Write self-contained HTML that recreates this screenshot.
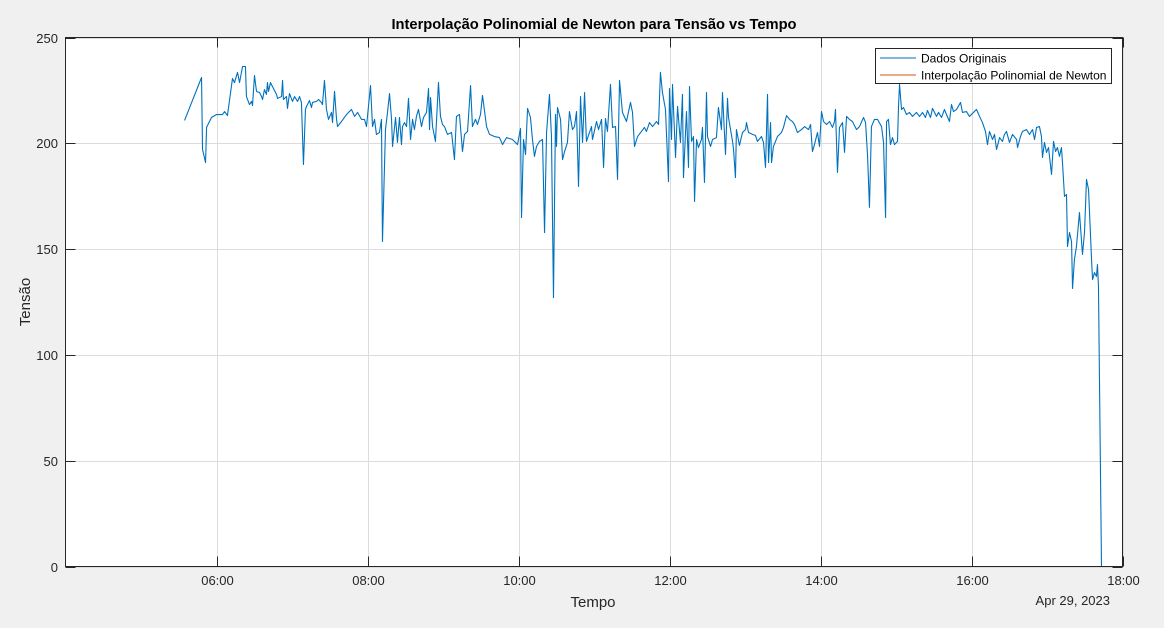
<!DOCTYPE html>
<html><head><meta charset="utf-8"><style>
html,body{margin:0;padding:0;background:#f0f0f0;}
svg{display:block;font-family:"Liberation Sans",sans-serif;}
</style></head><body>
<svg id="chart" width="1164" height="628" viewBox="0 0 1164 628" xmlns="http://www.w3.org/2000/svg">
<rect x="0" y="0" width="1164" height="628" fill="#f0f0f0"/>
<rect x="65.5" y="37.5" width="1057" height="529" fill="#ffffff"/>
<g id="grid"></g>
<g id="series"></g>
<rect x="65.5" y="37.5" width="1057" height="529" fill="none" stroke="#262626" stroke-width="1"/>
<g id="ticks"></g>
<text x="594" y="29" text-anchor="middle" font-size="14.7" font-weight="bold" fill="#000">Interpolação Polinomial de Newton para Tensão vs Tempo</text>
<text x="593" y="607" text-anchor="middle" font-size="15" fill="#262626">Tempo</text>
<text x="1110" y="605" text-anchor="end" font-size="13" fill="#262626">Apr 29, 2023</text>
<text transform="translate(30,302) rotate(-90)" text-anchor="middle" font-size="15" fill="#262626">Tensão</text>
<g>
<rect x="875.5" y="48.5" width="236" height="35" fill="#fff" stroke="#262626" stroke-width="1"/>
<line x1="880" y1="58" x2="916" y2="58" stroke="#0072BD" stroke-width="1"/>
<text x="921" y="62.5" font-size="12" fill="#000">Dados Originais</text>
<line x1="880" y1="75" x2="916" y2="75" stroke="#D95319" stroke-width="1"/>
<text x="921" y="79.5" font-size="12" fill="#000">Interpolação Polinomial de Newton</text>
</g>
</svg>
<script>
// minutes since midnight
const times = [334.6,348.1,348.9,351.3,352.1,356.0,360.0,364.8,366.4,368.7,372.7,374.3,376.7,378.3,380.7,383.0,383.8,386.2,387.8,388.6,390.2,391.8,394.2,395.8,396.6,398.1,399.7,400.5,401.3,402.9,404.5,407.7,408.5,411.7,412.5,413.2,415.6,416.4,418.0,420.4,422.0,424.4,426.0,427.5,429.1,430.7,431.5,433.9,435.5,436.3,439.5,441.1,443.4,444.2,445.8,447.4,449.0,451.4,452.2,453.8,455.4,456.2,459.3,463.3,467.3,469.7,472.1,475.2,477.6,479.2,482.4,484.0,485.6,487.1,489.5,491.1,491.9,494.3,495.9,497.5,499.1,499.9,502.3,503.8,505.4,507.0,507.8,509.4,511.0,512.6,514.2,515.8,517.3,518.9,520.5,522.9,524.5,526.9,528.5,529.3,530.1,531.7,534.0,536.4,538.0,539.6,541.2,543.6,546.8,549.1,550.7,553.1,555.5,557.1,559.5,561.9,563.4,565.8,567.4,569.8,571.4,574.6,577.0,580.9,584.9,587.3,590.5,595.2,599.2,601.6,602.4,604.0,605.6,607.2,609.5,611.1,612.7,614.3,616.7,619.1,620.7,622.3,624.6,626.2,627.8,629.4,630.2,631.0,633.4,635.0,636.6,638.9,640.5,642.9,644.5,646.1,647.7,649.3,650.9,652.5,654.0,658.0,658.8,662.0,663.6,666.0,667.6,669.1,670.7,673.1,674.7,677.1,678.7,680.3,682.6,685.8,689.0,690.6,692.2,694.6,697.7,700.1,701.7,704.1,706.5,709.7,711.3,712.8,714.4,716.8,719.2,720.0,721.6,722.4,724.8,726.4,728.7,730.3,731.1,733.5,735.1,735.9,737.5,739.1,739.9,741.5,743.0,745.4,746.2,747.8,749.4,750.2,752.6,754.2,757.3,758.9,761.3,762.1,764.5,766.1,766.9,768.5,770.1,770.9,772.4,773.2,775.6,778.0,780.4,781.2,782.8,786.0,788.3,789.9,793.1,794.7,796.3,797.9,798.7,800.3,801.1,802.6,805.8,809.0,810.6,813.0,815.4,817.7,819.3,821.7,824.9,827.3,830.5,832.1,833.6,835.2,837.6,839.2,840.8,842.4,844.8,847.2,849.5,851.1,851.9,853.5,855.1,857.5,859.1,860.7,863.0,865.4,868.6,871.0,874.2,875.8,877.4,878.9,880.5,882.9,885.3,888.5,890.1,891.7,892.5,894.0,895.6,897.2,898.8,901.2,902.0,902.8,904.4,906.0,908.3,910.7,913.1,916.3,918.7,921.1,923.4,925.0,927.4,929.0,932.2,933.8,936.2,938.5,940.1,942.5,944.1,945.7,948.1,951.3,952.8,956.0,958.4,961.6,964.0,966.4,968.7,971.1,972.7,974.3,976.7,978.3,979.9,982.3,984.6,986.2,987.8,990.2,992.6,995.8,996.6,998.9,1000.5,1003.7,1006.1,1008.5,1010.1,1011.7,1014.0,1015.6,1016.4,1018.0,1019.6,1021.2,1023.6,1025.2,1026.8,1028.3,1029.9,1031.5,1032.3,1033.9,1035.5,1036.3,1037.9,1039.5,1040.3,1041.8,1043.4,1045.8,1048.2,1049.8,1051.4,1053.0,1055.4,1056.2,1057.7,1059.3,1060.1,1060.9,1063.3];
const voltage = [210.8,231.1,197.1,190.9,207.5,212.2,213.6,213.6,215.0,213.1,230.6,228.7,233.5,228.7,236.3,236.3,222.1,218.3,219.8,217.9,232.0,224.5,224.0,222.1,220.7,225.4,223.1,228.7,224.5,228.7,226.8,223.1,221.2,222.1,229.7,220.7,222.1,216.5,223.5,219.8,222.1,219.8,222.1,219.3,190.0,216.0,217.4,220.2,216.9,219.3,219.8,220.7,219.3,218.3,229.7,216.0,211.3,214.6,209.8,224.5,211.3,207.9,210.3,213.6,216.0,212.7,214.6,211.3,211.3,207.9,227.3,207.9,211.3,204.2,205.1,211.3,153.6,206.5,214.6,223.5,211.3,198.5,212.2,200.4,212.2,199.4,207.9,209.8,207.9,221.2,201.8,211.3,206.5,212.7,216.0,207.9,212.2,214.6,225.9,206.5,221.6,207.9,200.9,228.7,212.7,208.9,207.9,204.2,205.1,192.3,212.7,213.6,196.1,204.2,205.6,227.3,207.9,211.3,208.9,213.6,222.6,207.9,204.2,203.2,202.7,199.4,202.7,201.8,199.4,207.0,164.9,201.8,194.7,216.5,212.2,201.8,193.8,198.5,200.9,201.8,157.8,205.1,223.1,203.2,127.1,213.6,198.5,216.9,211.3,192.3,196.1,200.4,215.0,206.5,207.9,215.0,179.6,222.1,200.4,224.0,200.9,207.9,201.8,210.3,206.5,211.3,188.6,211.7,205.6,227.8,207.5,207.9,182.9,229.7,214.6,210.3,219.3,214.6,198.5,203.2,205.6,207.5,205.6,209.8,207.9,210.3,208.9,233.5,224.0,216.0,181.9,225.9,201.8,227.8,193.3,217.4,200.4,223.1,183.8,215.0,188.6,226.8,200.9,203.2,172.5,201.8,198.0,201.8,207.5,181.5,224.0,203.2,198.5,201.8,202.7,216.9,206.5,224.0,194.7,221.2,212.2,206.5,200.9,197.1,183.8,206.5,199.0,205.1,206.5,209.8,205.1,204.2,203.7,200.9,203.2,200.4,188.6,223.1,190.9,209.8,190.9,198.5,203.2,205.1,207.5,213.1,211.3,210.3,208.9,205.1,206.5,207.9,206.5,208.9,196.1,199.4,205.1,198.5,215.0,210.3,208.9,210.3,207.5,210.3,216.0,186.2,207.5,209.8,195.7,212.7,211.3,210.3,206.5,207.9,212.2,209.8,194.2,169.7,207.9,211.3,211.3,207.9,200.4,164.9,210.3,211.3,199.4,202.7,199.4,200.9,217.4,227.8,216.0,216.9,213.6,214.6,212.7,214.6,212.7,214.6,212.2,215.5,212.2,216.5,212.7,214.6,212.2,216.0,213.6,210.3,218.3,215.0,216.0,219.3,214.6,215.0,212.7,214.6,216.0,212.7,209.8,205.6,199.4,205.6,201.8,204.2,197.1,202.7,200.9,204.2,205.6,200.4,204.2,201.8,198.0,203.2,205.6,206.5,204.2,206.5,201.8,207.5,207.9,203.2,193.3,200.4,195.7,198.0,185.3,200.9,196.1,198.0,193.8,198.0,190.9,174.9,175.8,151.2,157.8,153.6,131.4,145.1,151.2,167.3,147.5,157.8,182.9,178.2,145.1,135.6,138.9,137.1,142.7,132.3,0];
const yTicks = [0,50,100,150,200,250];
const xTickMinutes = [360,480,600,720,840,960,1080];
const xTickLabels = ["06:00","08:00","10:00","12:00","14:00","16:00","18:00"];
const yTickLabels = ["0","50","100","150","200","250"];

const NS = "http://www.w3.org/2000/svg";
const L = 65.5, R = 1122.5, T = 37.5, B = 566.5;
const xMin = 240, xMax = 1080, yMin = 0, yMax = 250;
function xs(m){ return L + (m - xMin) / (xMax - xMin) * (R - L); }
function ys(v){ return B - (v - yMin) / (yMax - yMin) * (B - T); }
function mk(tag, attrs, parent){ const e = document.createElementNS(NS, tag); for (const k in attrs) e.setAttribute(k, attrs[k]); parent.appendChild(e); return e; }

const grid = document.getElementById('grid');
const ticks = document.getElementById('ticks');
yTicks.forEach((v, i) => {
  const y = Math.round(ys(v)) + 0.5;
  const g = mk('line', {x1: L, x2: R, y1: y, y2: y, stroke: '#dcdcdc', 'stroke-width': 1}, grid);
  
  
  const t1 = mk('line', {x1: L, x2: L + 10, y1: y, y2: y, stroke: '#262626', 'stroke-width': 1}, ticks);
  
  
  const t2 = mk('line', {x1: R - 10, x2: R, y1: y, y2: y, stroke: '#262626', 'stroke-width': 1}, ticks);
  
  
  const tx = mk('text', {x: 58, y: y + 4.5, 'text-anchor': 'end', 'font-size': 13, fill: '#262626'}, ticks);
  tx.textContent = yTickLabels[i];
  
  
});
xTickMinutes.forEach((m, i) => {
  const x = Math.round(xs(m)) + 0.5;
  const g = mk('line', {x1: x, x2: x, y1: T, y2: B, stroke: '#dcdcdc', 'stroke-width': 1}, grid);
  
  
  const t1 = mk('line', {x1: x, x2: x, y1: B - 10, y2: B, stroke: '#262626', 'stroke-width': 1}, ticks);
  
  
  const t2 = mk('line', {x1: x, x2: x, y1: T, y2: T + 10, stroke: '#262626', 'stroke-width': 1}, ticks);
  
  
  const tx = mk('text', {x: x, y: 585, 'text-anchor': 'middle', 'font-size': 13, fill: '#262626'}, ticks);
  tx.textContent = xTickLabels[i];
  
  
});

const series = document.getElementById('series');
let d = '';
times.forEach((m, i) => { d += (i ? 'L' : 'M') + xs(m).toFixed(2) + ',' + ys(voltage[i]).toFixed(2); });
const path = mk('path', {d: d, fill: 'none', stroke: '#0072BD', 'stroke-width': 1.1, 'stroke-linejoin': 'round'}, series);


</script>
</body></html>
